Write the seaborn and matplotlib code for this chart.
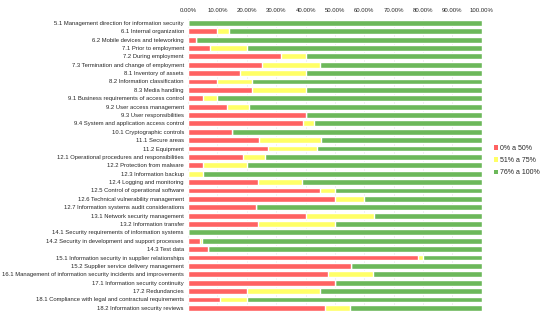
import numpy as np
import pandas as pd
import matplotlib
matplotlib.use("Agg")
import matplotlib.pyplot as plt
import seaborn as sns
from matplotlib.patches import Patch
from matplotlib.ticker import FuncFormatter

categories = [
    "5.1 Management direction for information security",
    "6.1 Internal organization",
    "6.2 Mobile devices and teleworking",
    "7.1 Prior to employment",
    "7.2 During employment",
    "7.3 Termination and change of employment",
    "8.1 Inventory of assets",
    "8.2 Information classification",
    "8.3 Media handling",
    "9.1 Business requirements of access control",
    "9.2 User access management",
    "9.3 User responsibilities",
    "9.4 System and application access control",
    "10.1 Cryptographic controls",
    "11.1 Secure areas",
    "11.2 Equipment",
    "12.1 Operational procedures and responsibilities",
    "12.2 Protection from malware",
    "12.3 Information backup",
    "12.4 Logging and monitoring",
    "12.5 Control of operational software",
    "12.6 Technical vulnerability management",
    "12.7 Information systems audit considerations",
    "13.1 Network security management",
    "13.2 Information transfer",
    "14.1 Security requirements of information systems",
    "14.2 Security in development and support processes",
    "14.3 Test data",
    "15.1 Information security in supplier relationships",
    "15.2 Supplier service delivery management",
    "16.1 Management of information security incidents and improvements",
    "17.1 Information security continuity",
    "17.2 Redundancies",
    "18.1 Compliance with legal and contractual requirements",
    "18.2 Information security reviews",
]

low = [0, 10, 2.6, 7.6, 31.6, 25, 17.6, 10, 21.7, 5, 13.4, 40, 39, 15, 24.3, 27.3,
       18.75, 5, 0, 23.75, 45, 50, 23.1, 40, 23.75, 0, 4, 6.7, 78.3, 55.6, 47.8, 50,
       20, 11, 46.7]
mid = [0, 4, 0, 12.5, 8.5, 20, 22.5, 11.7, 18.4, 5, 7.4, 0, 4, 0, 20.8, 16.7,
       7.6, 15, 5, 15.1, 5, 10, 0, 23.3, 26.25, 0, 0.6, 0, 1.8, 0, 15.2, 0,
       25, 9, 8.4]
high = [100 - a - b for a, b in zip(low, mid)]

series_labels = ["0% a 50%", "51% a 75%", "76% a 100%"]
colors = ["#ff6262", "#ffff66", "#6cb85a"]

df = pd.DataFrame({"cat": categories, "low": low, "mid": mid, "high": high})
df["c_low"] = df["low"]
df["c_mid"] = df["low"] + df["mid"]
df["c_high"] = df["low"] + df["mid"] + df["high"]

sns.set_style("white")
plt.rcParams["font.family"] = ["Liberation Sans", "DejaVu Sans"]

fig = plt.figure(figsize=(5.5, 3.21), dpi=100)
ax = fig.add_axes([0.342, 0.028, 0.534, 0.914])

for col, color in zip(["c_high", "c_mid", "c_low"], colors[::-1]):
    sns.barplot(data=df, x=col, y="cat", order=categories, color=color,
                saturation=1, width=0.7, orient="h", ax=ax, zorder=2)

ax.set_xlim(0, 100)
ax.set_ylim(len(categories) - 0.5, -0.5)
ax.set_xticks(np.arange(0, 101, 10))
ax.xaxis.set_major_formatter(FuncFormatter(lambda v, p: f"{v:.2f}%"))
ax.xaxis.tick_top()
ax.grid(axis="x", color="#e6e6e6", linewidth=0.5, zorder=0)
ax.set_axisbelow(True)
ax.set_xlabel("")
ax.set_ylabel("")
ax.tick_params(axis="x", labelsize=4.3, length=0, pad=4)
ax.tick_params(axis="y", labelsize=4.25, length=0, pad=3)
for s in ax.spines.values():
    s.set_visible(False)

handles = [Patch(facecolor=c, edgecolor="none") for c in colors]
fig.legend(handles, series_labels, loc="center left",
           bbox_to_anchor=(0.895, 0.5), frameon=False, fontsize=5.0,
           handlelength=0.6, handleheight=0.6, handletextpad=0.3,
           labelspacing=0.75, borderpad=0.2, borderaxespad=0.0)

fig.savefig("out.png", dpi=100)
